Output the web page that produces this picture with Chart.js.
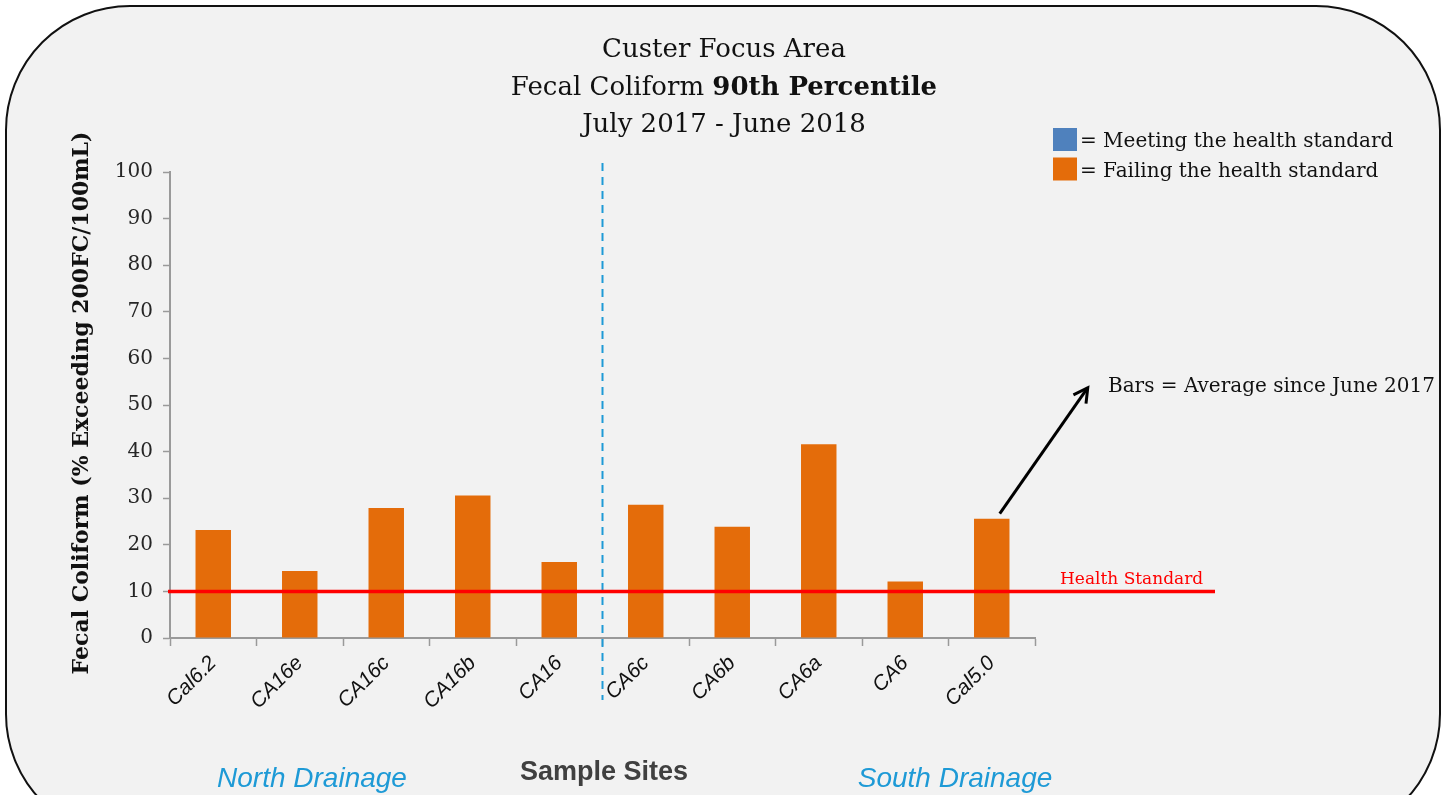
<!DOCTYPE html>
<html>
<head>
<meta charset="utf-8">
<script src="https://cdn.jsdelivr.net/npm/chart.js@4.4.0/dist/chart.umd.min.js"></script>
<style>
  html, body { margin: 0; padding: 0; background: #fff; overflow: hidden; }
  #frame {
    position: absolute; left: 5px; top: 5px; width: 1432px; height: 830px;
    background: #f2f2f2; border: 2px solid #111; border-radius: 125px;
  }
  #wrap { position: absolute; left: 0; top: 0; width: 1447px; height: 795px; }
</style>
</head>
<body>
<div id="frame"></div>
<div id="wrap"><canvas id="c" width="1447" height="795"></canvas></div>
<script>
// Chart data
const sites = ['Cal6.2', 'CA16e', 'CA16c', 'CA16b', 'CA16', 'CA6c', 'CA6b', 'CA6a', 'CA6', 'Cal5.0'];
const pctExceeding = [23.2, 14.4, 27.9, 30.6, 16.3, 28.6, 23.9, 41.6, 12.1, 25.6];
const healthStandard = 10;
const northSites = 5; // first five are north drainage

const titleLines = [
  [{ t: 'Custer Focus Area', b: false }],
  [{ t: 'Fecal Coliform ', b: false }, { t: '90th Percentile', b: true }],
  [{ t: 'July 2017 - June 2018', b: false }]
];
const legendItems = [
  { color: '#4f81bd', text: '= Meeting the health standard' },
  { color: '#e46c0a', text: '= Failing the health standard' }
];

const SERIF = '"DejaVu Serif", "Liberation Serif", serif';
const SANS = '"Liberation Sans", Arial, sans-serif';

const extras = {
  id: 'extras',
  afterDatasetsDraw(chart) {
    const { ctx, chartArea: area, scales: { x, y } } = chart;
    ctx.save();

    // divider between north and south drainage
    const divX = (x.getPixelForValue(northSites - 1) + x.getPixelForValue(northSites)) / 2;
    ctx.strokeStyle = '#1e9ad6';
    ctx.lineWidth = 2;
    ctx.setLineDash([8, 6]);
    ctx.beginPath();
    ctx.moveTo(divX, area.top - 9);
    ctx.lineTo(divX, area.bottom + 62);
    ctx.stroke();
    ctx.setLineDash([]);

    // health standard line
    const hy = y.getPixelForValue(healthStandard);
    ctx.strokeStyle = '#ff0000';
    ctx.lineWidth = 3.5;
    ctx.beginPath();
    ctx.moveTo(area.left - 2, hy);
    ctx.lineTo(area.right + 180, hy);
    ctx.stroke();
    ctx.fillStyle = '#ff0000';
    ctx.font = '17px ' + SERIF;
    ctx.textAlign = 'left';
    ctx.textBaseline = 'alphabetic';
    ctx.fillText('Health Standard', area.right + 25, hy - 7);

    // arrow from last bar
    const lastX = x.getPixelForValue(sites.length - 1);
    const lastY = y.getPixelForValue(pctExceeding[sites.length - 1]);
    const ax0 = lastX + 8, ay0 = lastY - 5, ax1 = lastX + 96, ay1 = lastY - 131;
    ctx.strokeStyle = '#000';
    ctx.lineWidth = 3;
    ctx.beginPath();
    ctx.moveTo(ax0, ay0);
    ctx.lineTo(ax1, ay1);
    ctx.stroke();
    const ang = Math.atan2(ay1 - ay0, ax1 - ax0);
    ctx.beginPath();
    ctx.moveTo(ax1 - 16 * Math.cos(ang - 0.5), ay1 - 16 * Math.sin(ang - 0.5));
    ctx.lineTo(ax1, ay1);
    ctx.lineTo(ax1 - 16 * Math.cos(ang + 0.5), ay1 - 16 * Math.sin(ang + 0.5));
    ctx.stroke();
    ctx.fillStyle = '#111';
    ctx.font = '20px ' + SERIF;
    ctx.fillText('Bars = Average since June 2017', 1108, 392);

    // title
    ctx.fillStyle = '#111';
    titleLines.forEach((line, i) => {
      let w = 0;
      line.forEach(s => { ctx.font = (s.b ? 'bold ' : '') + '26px ' + SERIF; w += ctx.measureText(s.t).width; });
      let cx = 724 - w / 2;
      line.forEach(s => {
        ctx.font = (s.b ? 'bold ' : '') + '26px ' + SERIF;
        ctx.fillText(s.t, cx, 57 + i * 37.5);
        cx += ctx.measureText(s.t).width;
      });
    });

    // legend
    legendItems.forEach((it, i) => {
      const ly = 128 + i * 29.5;
      ctx.fillStyle = it.color;
      ctx.fillRect(1053, ly, 24, 23);
      ctx.fillStyle = '#111';
      ctx.font = '20px ' + SERIF;
      ctx.fillText(it.text, 1080, ly + 19);
    });

    // y axis title
    ctx.save();
    ctx.translate(88, 403);
    ctx.rotate(-Math.PI / 2);
    ctx.textAlign = 'center';
    ctx.font = 'bold 22px ' + SERIF;
    ctx.fillStyle = '#111';
    ctx.fillText('Fecal Coliform (% Exceeding 200FC/100mL)', 0, 0);
    ctx.restore();

    // x axis title and drainage labels
    ctx.textAlign = 'center';
    ctx.font = 'bold 27px ' + SANS;
    ctx.fillStyle = '#404040';
    ctx.fillText('Sample Sites', 604, 780);
    ctx.font = 'italic 28px ' + SANS;
    ctx.fillStyle = '#1e9ad6';
    ctx.fillText('North Drainage', 312, 787);
    ctx.fillText('South Drainage', 955, 787);

    ctx.restore();
  }
};

new Chart(document.getElementById('c'), {
  type: 'bar',
  data: {
    labels: sites,
    datasets: [{
      data: pctExceeding,
      backgroundColor: '#e46c0a',
      borderWidth: 0,
      categoryPercentage: 1,
      barPercentage: 0.41
    }]
  },
  options: {
    responsive: false,
    animation: false,
    events: [],
    layout: { padding: { left: 0, right: 412, top: 172, bottom: 0 } },
    plugins: { legend: { display: false }, tooltip: { enabled: false }, title: { display: false } },
    scales: {
      x: {
        afterFit: s => { s.height = 157; },
        grid: { display: true, drawOnChartArea: false, offset: true, color: '#9a9a9a', tickLength: 8, tickWidth: 1.5 },
        border: { color: '#9a9a9a', width: 2 },
        ticks: {
          minRotation: 45, maxRotation: 45, padding: 5,
          color: '#111',
          font: { family: SANS, size: 21, style: 'italic' }
        }
      },
      y: {
        min: 0, max: 100,
        afterFit: s => { s.width = 170; },
        grid: { display: true, drawOnChartArea: false, color: '#9a9a9a', tickLength: 7, tickWidth: 1.5 },
        border: { color: '#9a9a9a', width: 2 },
        ticks: {
          stepSize: 10, padding: 10,
          color: '#262626',
          font: { family: SERIF, size: 20 }
        }
      }
    }
  },
  plugins: [extras]
});
</script>
</body>
</html>
